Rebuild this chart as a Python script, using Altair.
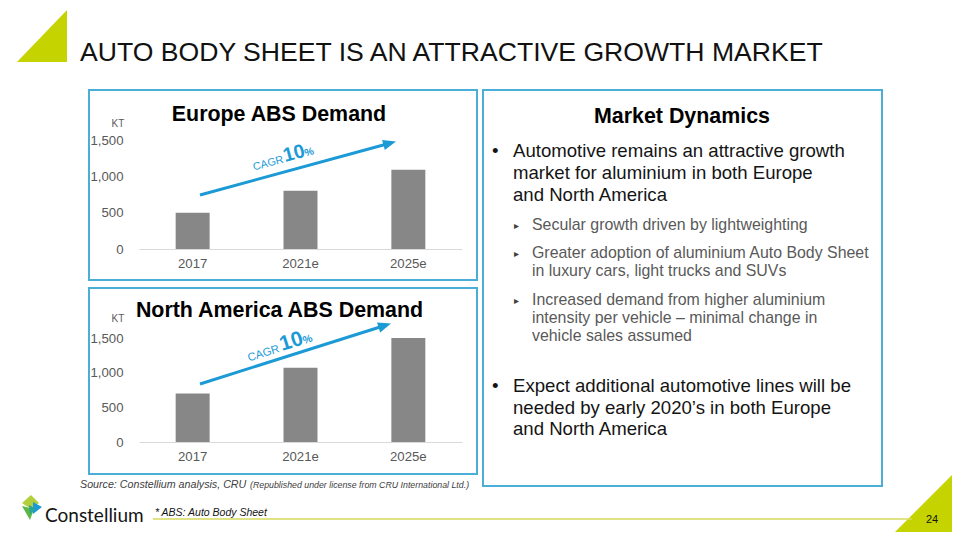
import math
import altair as alt
import pandas as pd

# ---------------- data ----------------
years = ["2017", "2021e", "2025e"]
europe_kt = [500, 800, 1090]
north_america_kt = [700, 1070, 1500]
y_ticks = [0, 500, 1000, 1500]

slide_title = "AUTO BODY SHEET IS AN ATTRACTIVE GROWTH MARKET"
europe_title = "Europe ABS Demand"
na_title = "North America ABS Demand"
panel_title = "Market Dynamics"
bullet1 = ["Automotive remains an attractive growth",
           "market for aluminium in both Europe",
           "and North America"]
sub1 = ["Secular growth driven by lightweighting"]
sub2 = ["Greater adoption of aluminium Auto Body Sheet",
        "in luxury cars, light trucks and SUVs"]
sub3 = ["Increased demand from higher aluminium",
        "intensity per vehicle \u2013 minimal change in",
        "vehicle sales assumed"]
bullet2 = ["Expect additional automotive lines will be",
           "needed by early 2020\u2019s in both Europe",
           "and North America"]
source_main = "Source: Constellium analysis, CRU"
source_note = "(Republished under license from CRU International Ltd.)"
footnote = "* ABS: Auto Body Sheet"
page_no = "24"
logo_text = "Constellium"

# ---------------- layout helpers ----------------
W, H = 944, 524
M = 8


def X(v):
    return v - M


def Y(v):
    return v - M


FONT = "Liberation Sans"
LIME = "#c5d300"
BOX = "#4aaed8"
ARROW = "#1b9ad6"
BAR = "#878787"
GRAY = "#595959"
DARK = "#141414"

ONE = pd.DataFrame({"k": [0]})


def text(s, x, y, size, color=DARK, weight="normal", style="normal",
         align="left", angle=0, font=FONT, baseline="alphabetic"):
    kw = dict(text=s, align=align, baseline=baseline, fontSize=size,
              fontWeight=weight, fontStyle=style, color=color, font=font)
    if angle:
        kw["angle"] = angle
    return alt.Chart(ONE).mark_text(**kw).encode(
        x=alt.value(X(x)), y=alt.value(Y(y)))


def poly(points, color):
    xs = [p[0] for p in points]
    ys = [p[1] for p in points]
    cx = (min(xs) + max(xs)) / 2
    cy = (min(ys) + max(ys)) / 2
    r = max(max(xs) - min(xs), max(ys) - min(ys)) / 2
    path = "M" + " L".join(f"{(px - cx) / r:.4f},{(py - cy) / r:.4f}"
                           for px, py in points) + " Z"
    return alt.Chart(ONE).mark_point(
        shape=path, size=(2 * r) ** 2, filled=True, color=color,
        opacity=1, strokeWidth=0).encode(
        x=alt.value(X(cx)), y=alt.value(Y(cy)))


def box(x1, y1, x2, y2):
    return alt.Chart(ONE).mark_rect(
        fillOpacity=0, stroke=BOX, strokeWidth=2).encode(
        x=alt.value(X(x1)), x2=alt.value(X(x2)),
        y=alt.value(Y(y1)), y2=alt.value(Y(y2)))


def rule(x1, y1, x2, y2, color, width):
    return alt.Chart(ONE).mark_rule(color=color, strokeWidth=width).encode(
        x=alt.value(X(x1)), y=alt.value(Y(y1)),
        x2=alt.value(X(x2)), y2=alt.value(Y(y2)))


def arrow(x1, y1, tx, ty):
    ang = math.atan2(y1 - ty, tx - x1)
    L = 6.5
    cx = tx - L * math.cos(ang)
    cy = ty + L * math.sin(ang)
    head = alt.Chart(ONE).mark_point(
        shape="M1,0 L-1,-0.8 L-1,0.8 Z", size=(2 * L) ** 2, filled=True,
        color=ARROW, opacity=1, strokeWidth=0,
        angle=(360 - math.degrees(ang)) % 360).encode(
        x=alt.value(X(cx)), y=alt.value(Y(cy)))
    return [rule(x1, y1, cx, cy, ARROW, 3), head]


def bars(vals, base_y, top_y):
    df = pd.DataFrame({"year": years, "kt": vals})
    return alt.Chart(df).mark_bar(color=BAR).encode(
        x=alt.X("year:N", sort=years,
                scale=alt.Scale(range=[X(139), X(462)],
                                paddingInner=0.685, paddingOuter=0.34),
                axis=alt.Axis(orient="bottom", offset=Y(base_y) - H,
                              title=None, labelAngle=0, ticks=False,
                              tickSize=0, domainColor="#d9d9d9",
                              domainWidth=1, labelColor=GRAY,
                              labelFontSize=13.2, labelFont=FONT,
                              labelPadding=8, grid=False)),
        y=alt.Y("kt:Q",
                scale=alt.Scale(domain=[0, 1500],
                                range=[Y(base_y), Y(top_y)]),
                axis=alt.Axis(orient="left", offset=-X(123), title=None,
                              values=y_ticks, format=",.0f", ticks=False,
                              tickSize=0, domain=False, grid=False,
                              labelColor=GRAY, labelFontSize=13.2,
                              labelFont=FONT, labelPadding=0)),
    )


layers = []

# corner triangles
layers.append(poly([(17, 62), (67, 10), (67, 62)], LIME))
layers.append(poly([(887, 540), (960, 467), (960, 540)], LIME))

# slide title
layers.append(text(slide_title, 80, 61, 26.6, color="#111111"))

# boxes
layers.append(box(89, 90, 477, 280))
layers.append(box(89, 288, 477, 474))
layers.append(box(483, 90, 882, 486))

# Europe chart
layers.append(text(europe_title, 279, 121, 21.4, weight="bold", align="center", color="#000000"))
layers.append(text("KT", 118, 127, 10, color=GRAY, align="center"))
layers.append(bars(europe_kt, 249, 140))
layers += arrow(200, 195, 396, 141.5)
layers.append(text("CAGR", 254, 170.5, 10.8, color=ARROW, angle=345))
layers.append(text("10", 285, 162, 19.5, color=ARROW, weight="bold", angle=345))
layers.append(text("%", 305.5, 156.5, 10.5, color=ARROW, weight="bold", angle=345))

# North America chart
layers.append(text(na_title, 279.5, 317, 21.4, weight="bold", align="center", color="#000000"))
layers.append(text("KT", 118, 322, 10, color=GRAY, align="center"))
layers.append(bars(north_america_kt, 442, 338))
layers += arrow(200, 384, 391, 323.5)
layers.append(text("CAGR", 249, 361.5, 11.3, color=ARROW, angle=342.5))
layers.append(text("10", 282, 351, 21, color=ARROW, weight="bold", angle=342.5))
layers.append(text("%", 304, 344, 10.8, color=ARROW, weight="bold", angle=342.5))

# Market dynamics panel
layers.append(text(panel_title, 682, 123, 21.4, weight="bold", align="center", color="#000000"))
for i, line in enumerate(bullet1):
    layers.append(text(line, 513, 157 + 22 * i, 18.6))
layers.append(text("\u2022", 492, 157, 18.6))
sub_rows = [(sub1, 230), (sub2, 258), (sub3, 305)]
for lines, y0 in sub_rows:
    layers.append(text("\u25b8", 514, y0 - 1, 10, color="#404040", font="DejaVu Sans"))
    for i, line in enumerate(lines):
        layers.append(text(line, 532, y0 + 17.8 * i, 15.9, color=GRAY))
for i, line in enumerate(bullet2):
    layers.append(text(line, 513, 392 + 21.7 * i, 18.6))
layers.append(text("\u2022", 492, 392, 18.6))

# footer
layers.append(text(source_main, 80, 488, 10.7, color="#404040", style="italic"))
layers.append(text(source_note, 250, 488, 8.8, color="#404040", style="italic"))
layers.append(rule(153, 519, 912, 519, "#d6da5c", 1.5))
layers.append(text(footnote, 155, 516, 10.5, color=DARK, style="italic"))
layers.append(text(page_no, 932, 523, 11, color=DARK, align="center"))

# logo
layers.append(poly([(31, 495), (39, 503), (31, 509), (22, 503)], "#b3cf3b"))
layers.append(poly([(33, 502), (42, 507), (33, 514)], "#1b9ad6"))
layers.append(poly([(22, 506), (34, 509), (30, 520)], "#5bb847"))
layers.append(poly([(29, 505), (36, 509), (30, 514)], "#2aa39a"))
layers.append(text(logo_text, 45, 522, 19, color=DARK, font="Lato"))

chart = alt.layer(*layers).resolve_scale(
    x="independent", y="independent"
).properties(
    width=W, height=H, padding=0,
    autosize=alt.AutoSizeParams(type="none"),
).configure_view(strokeWidth=0)

chart.save("out.html", embed_options={"renderer": "svg", "actions": False})
